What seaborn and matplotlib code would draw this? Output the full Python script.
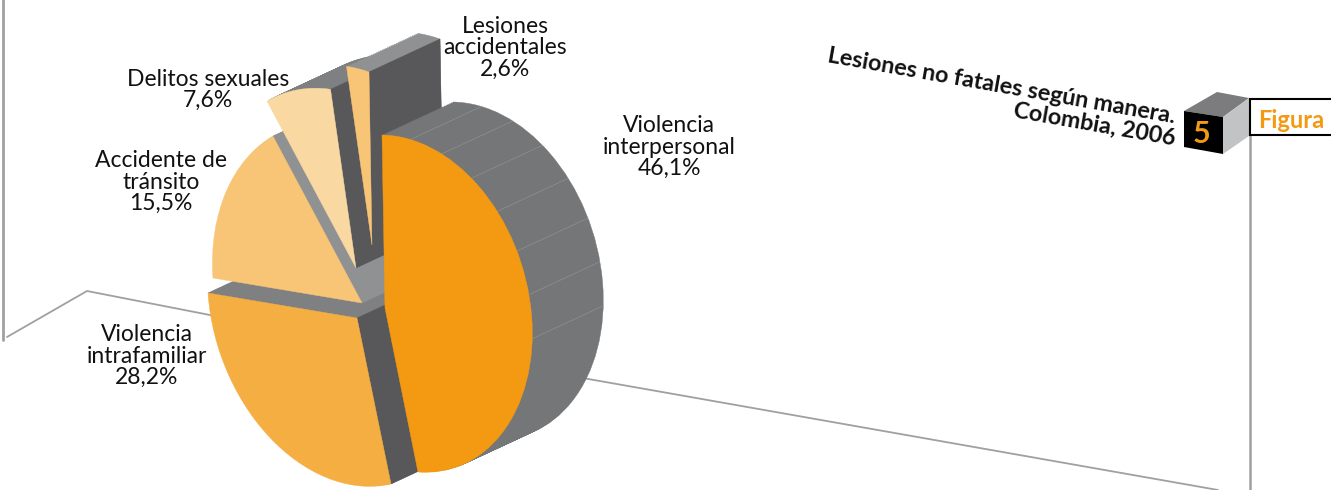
import numpy as np
import seaborn as sns
import matplotlib
matplotlib.use('Agg')
import matplotlib.pyplot as plt
from matplotlib.transforms import Transform, Affine2D

# Data
categories = ['Violencia\ninterpersonal', 'Violencia\nintrafamiliar', 'Accidente de\ntránsito',
              'Delitos sexuales', 'Lesiones\naccidentales']
values = [46.1, 28.2, 15.5, 7.6, 2.6]
title_lines = ['Lesiones no fatales según manera.', 'Colombia, 2006']
figure_tag = 'Figura'
figure_number = '5'

# Look of each slice (same order as values)
face_colors = ['#F39A12', '#F5AE41', '#F8C476', '#FAD8A2', '#F8C476']
side_color = '#757678'
dark = '#58585A'
light = '#909193'
mid = '#7F8082'
rule = '#A0A0A0'
offsets = [(0, 0), (-28, 10), (-23, -5), (-29, -40), (-13, -63)]
label_pos = [(669, 147), (147, 356), (161, 182), (208, 90), (505, 48)]
depth = np.array([71, -33])

sns.set_theme(style='white')
plt.rcParams['font.family'] = ['Lato', 'DejaVu Sans']


def homography(src, dst):
    a, b = [], []
    for (x, y), (u, v) in zip(src, dst):
        a.append([x, y, 1, 0, 0, 0, -u * x, -u * y])
        a.append([0, 0, 0, x, y, 1, -v * x, -v * y])
        b += [u, v]
    return np.append(np.linalg.solve(np.array(a, float), np.array(b, float)), 1).reshape(3, 3)


class Tilt(Transform):
    # perspective of the pie disc, pie units to picture pixels
    input_dims = 2
    output_dims = 2
    is_separable = False
    has_inverse = False

    def __init__(self, matrix):
        super().__init__()
        self.matrix = matrix

    def transform_non_affine(self, values):
        pts = np.column_stack([values, np.ones(len(values))]) @ self.matrix.T
        return pts[:, :2] / pts[:, 2:]


# cumulative angles, clockwise from the top
edges = np.cumsum([0] + values) / sum(values) * 360


def unit(t):
    t = np.radians(t)
    return (np.sin(t), np.cos(t))


# the big slice is fitted on its own, the picture's perspective flatters it
tilt_rest = Tilt(homography([(0, 0), unit(0), unit(edges[1]), unit(edges[2])],
                            [(385, 308), (382, 135), (419, 474), (236, 283)]))
tilt_big = Tilt(homography([(0, 0), unit(0), unit(edges[1]), unit(85)],
                           [(385, 308), (382, 135), (418, 472), (532, 322)]))
tilts = [tilt_big, tilt_rest, tilt_rest, tilt_rest, tilt_rest]


def project(t, tilt=tilt_rest, radius=1.0):
    x, y = unit(t)
    return tilt.transform_non_affine(np.array([[x * radius, y * radius]]))[0]


fig, ax = plt.subplots(figsize=(13.31, 4.90), dpi=100)
fig.subplots_adjust(0, 0, 1, 1)


def draw_pie(colors, shift, zorders):
    wedges, _ = ax.pie(values, colors=colors, startangle=90, counterclock=False)
    for i, w in enumerate(wedges):
        dx = offsets[i][0] + shift[0]
        dy = offsets[i][1] + shift[1]
        w.set_transform(tilts[i] + Affine2D().translate(dx, dy) + ax.transData)
        w.set_zorder(zorders[i])
        w.set_edgecolor(colors[i])
        w.set_linewidth(0.3)
        w.set_clip_on(False)


def radial_face(i, t, color, z):
    apex = project(0, radius=0) + offsets[i]
    rim = project(t) + offsets[i]
    pts = np.array([apex, rim, rim + depth, apex + depth])
    ax.fill(pts[:, 0], pts[:, 1], color=color, zorder=z, lw=0.3)


# paint order, back to front
z_side = [70, 10, 20, 40, 50]
z_face = [90, 85, 30, 45, 60]

layers = 40
side_colors = [side_color, mid, light, mid, light]
for k in range(layers, 0, -1):
    draw_pie(side_colors, depth * k / layers, [z + k * 0.001 for z in z_side])
draw_pie(face_colors, (0, 0), z_face)

radial_face(1, edges[2], mid, 11)
radial_face(1, edges[1], dark, 80)
radial_face(2, edges[3], light, 21)
radial_face(3, edges[4], dark, 41)
radial_face(4, edges[5], dark, 51)

# thin light seams on the outer wall of the big slice
for t in np.arange(12, 100, 13):
    p = project(t, tilt_big)
    q = p + depth
    ax.plot([p[0], q[0]], [p[1], q[1]], color='#959698', lw=0.4, zorder=71)

# background rules
ax.plot([3, 3], [0, 340], color=rule, lw=2, zorder=1)
ax.plot([7, 87, 215], [337, 291, 316], color=rule, lw=1.3, zorder=1)
ax.plot([560, 1218], [374, 490], color=rule, lw=1.3, zorder=1)
ax.plot([1249.5, 1249.5], [135, 490], color=rule, lw=1.8, zorder=1)

# labels
for name, val, (x, y) in zip(categories, values, label_pos):
    text = f'{name}\n' + f'{val:.1f}'.replace('.', ',') + '%'
    ax.text(x, y, text, ha='center', va='center', fontsize=16.5, color='#111111',
            linespacing=1.03, zorder=100)

# title and figure tag
ax.text(1174, 123, title_lines[0], ha='right', va='baseline', rotation=-10, rotation_mode='anchor',
        fontsize=16.8, fontweight='bold', color='#111111')
ax.text(1174, 145, title_lines[1], ha='right', va='baseline', rotation=-10, rotation_mode='anchor',
        fontsize=16.8, fontweight='bold', color='#111111')

ax.fill([1184, 1217, 1249, 1223], [111, 92, 98, 117], color='#7C7C7E', lw=0, zorder=5)
ax.fill([1223, 1249, 1249, 1223], [117, 98, 136, 154], color='#C2C3C5', lw=0, zorder=5)
ax.fill([1184, 1223, 1223, 1184], [111, 117, 154, 147], color='#000000', lw=0, zorder=5)
ax.text(1202, 134, figure_number, ha='center', va='center', fontsize=22, fontweight='bold',
        color='#F39A12', zorder=6)
ax.fill([1250, 1335, 1335, 1250], [99.5, 99.5, 135.5, 135.5], facecolor='white', edgecolor='black',
        lw=1.5, zorder=5)
ax.text(1291, 120, figure_tag, ha='center', va='center', fontsize=17, fontweight='bold',
        color='#F39A12', zorder=6)

# ax.pie sets its own limits, so set the picture ones last
ax.set_aspect('auto')
ax.set_xlim(0, 1331)
ax.set_ylim(490, 0)
ax.axis('off')

fig.savefig('out.png', dpi=100)
